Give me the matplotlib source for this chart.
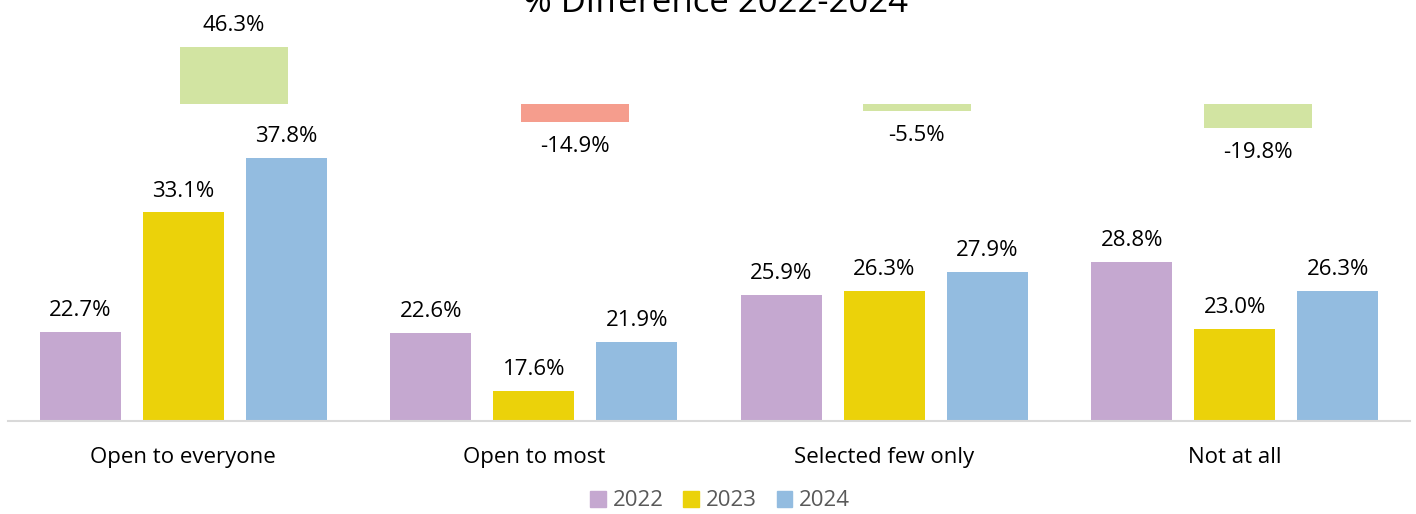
import matplotlib
matplotlib.use("Agg")
import matplotlib.pyplot as plt
import numpy as np
from matplotlib.patches import Patch

# data
categories = ["Open to everyone", "Open to most", "Selected few only", "Not at all"]
years = ["2022", "2023", "2024"]
values_2022 = [22.7, 22.6, 25.9, 28.8]
values_2023 = [33.1, 17.6, 26.3, 23.0]
values_2024 = [37.8, 21.9, 27.9, 26.3]
diff_values = [46.3, -14.9, -5.5, -19.8]
diff_colors = ["#D2E4A2", "#F59D8D", "#D2E4A2", "#D2E4A2"]

year_colors = ["#C5A8D0", "#EBD20A", "#93BCE0"]

plt.rcParams['font.family'] = ['Open Sans', 'DejaVu Sans']
W, H = 1416, 514
fig = plt.figure(figsize=(W / 100, H / 100), dpi=100)

# main axes: baseline at y=421px, spans x 8..1410, value axis starts at 15%
rect = [8 / W, (H - 421) / H, 1402 / W, 421 / H]
ax = fig.add_axes(rect)
x = np.arange(len(categories))
width = 0.231
offset = 0.294
ymin = 15
series = [values_2022, values_2023, values_2024]
for i, vals in enumerate(series):
    bars = ax.bar(x + (i - 1) * offset, np.array(vals) - ymin, width,
                  bottom=ymin, color=year_colors[i], zorder=2)
    for b, v in zip(bars, vals):
        ax.annotate(f"{v:.1f}%", (b.get_x() + b.get_width() / 2, v),
                    xytext=(0, 11.5), textcoords="offset points",
                    ha="center", va="baseline", fontsize=16, color="black")

ax.set_xlim(-0.5, 3.5)
ax.set_ylim(ymin, ymin + 421 / 11.52)
for s in ["top", "right", "left"]:
    ax.spines[s].set_visible(False)
ax.spines["bottom"].set_color("#D9D9D9")
ax.spines["bottom"].set_linewidth(1.5)
ax.set_yticks([])
ax.set_xticks([])
for xi, c in zip(x, categories):
    ax.annotate(c, (xi, 0), xycoords=("data", "axes fraction"),
                xytext=(0, -26), textcoords="offset points",
                ha="center", va="center", fontsize=16, color="black")

# difference bars on an overlay axes with its own scale
ax2 = fig.add_axes(rect)
ax2.patch.set_alpha(0)
ax2.axis("off")
unit = 341.33
ax2.set_xlim((8 - 234) / unit, (1410 - 234) / unit)
scale = 1.23
ax2.set_ylim(-317 / scale, 104 / scale)
dbars = ax2.bar(x, diff_values, 108 / unit, color=diff_colors, zorder=2)
for b, v in zip(dbars, diff_values):
    if v >= 0:
        ax2.annotate(f"{v:.1f}%", (b.get_x() + b.get_width() / 2, v),
                     xytext=(0, 11.5), textcoords="offset points",
                     ha="center", va="baseline", fontsize=16)
    else:
        ax2.annotate(f"{v:.1f}%", (b.get_x() + b.get_width() / 2, v),
                     xytext=(0, -10), textcoords="offset points",
                     ha="center", va="top", fontsize=16)

fig.text(716 / W, 1 - 12 / H, "% Difference 2022-2024", ha="center",
         va="baseline", fontsize=25, color="black")

handles = [Patch(color=c) for c in year_colors]
fig.legend(handles, years, loc="center", bbox_to_anchor=(720 / W, 1 - 501 / H),
           ncol=3, frameon=False, fontsize=16, labelcolor="#595959",
           handlelength=0.7, handleheight=0.7, handletextpad=0.3,
           columnspacing=0.9)

fig.savefig("out.png", dpi=100)
